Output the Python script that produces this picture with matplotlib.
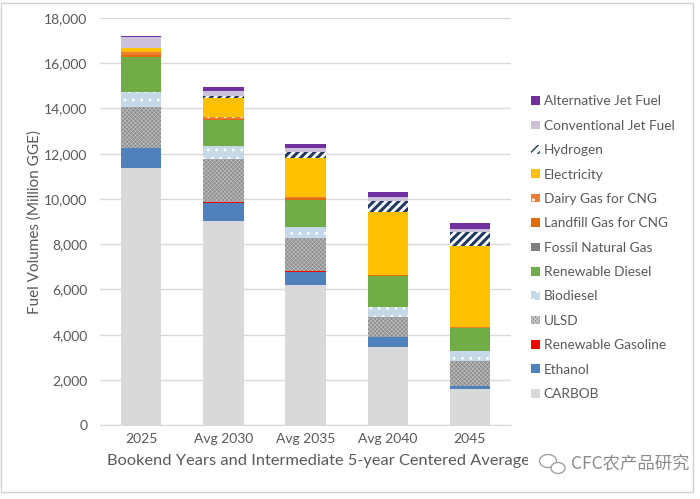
import matplotlib.pyplot as plt
import matplotlib.patches as mpatches
import numpy as np
from matplotlib.ticker import FuncFormatter

plt.rcParams['font.family'] = ['Lato', 'Noto Sans CJK SC', 'DejaVu Sans']

# categories
years = ['2025', 'Avg 2030', 'Avg 2035', 'Avg 2040', '2045']

# fuel volumes (million GGE), bottom of stack first
carbob = [11350, 9020, 6190, 3460, 1620]
ethanol = [880, 810, 590, 415, 115]
ren_gasoline = [30, 20, 20, 10, 0]
ulsd = [1810, 1900, 1480, 885, 1100]
biodiesel = [660, 600, 485, 440, 430]
ren_diesel = [1530, 1140, 1195, 1385, 1035]
fossil_ng = [20, 20, 15, 10, 5]
landfill = [100, 40, 60, 20, 10]
dairy = [115, 80, 55, 30, 10]
electricity = [175, 810, 1725, 2770, 3580]
hydrogen = [0, 100, 265, 470, 635]
conv_jet = [470, 240, 190, 175, 130]
alt_jet = [50, 150, 175, 220, 265]

# name, values, face, hatch, hatch colour, hatch width
series = [
    ['CARBOB', carbob, '#D9D9D9', None, None, 0],
    ['Ethanol', ethanol, '#4F81BD', None, None, 0],
    ['Renewable Gasoline', ren_gasoline, '#FF0000', None, None, 0],
    ['ULSD', ulsd, '#8F8F8F', 'xxxxxxxx', '#C4C4C4', 0.4],
    ['Biodiesel', biodiesel, '#C5D9E8', '..', 'white', 0.8],
    ['Renewable Diesel', ren_diesel, '#70AD47', None, None, 0],
    ['Fossil Natural Gas', fossil_ng, '#7F7F7F', None, None, 0],
    ['Landfill Gas for CNG', landfill, '#E46C0A', None, None, 0],
    ['Dairy Gas for CNG', dairy, '#ED7D31', '..', 'white', 0.8],
    ['Electricity', electricity, '#FFC000', None, None, 0],
    ['Hydrogen', hydrogen, 'white', '////', '#1F3864', 2.2],
    ['Conventional Jet Fuel', conv_jet, '#CCC1DA', None, None, 0],
    ['Alternative Jet Fuel', alt_jet, '#7030A0', None, None, 0],
]

fig = plt.figure(figsize=(7, 4.99), dpi=100)
ax = fig.add_axes([0.143, 0.148, 0.587, 0.816])

x = np.arange(len(years))
bottom = np.zeros(len(years))
handles = []
for name, vals, face, hatch, hcol, hw in series:
    vals = np.array(vals, dtype=float)
    if hatch:
        with plt.rc_context({'hatch.linewidth': hw}):
            b = ax.bar(x, vals, 0.49, bottom=bottom, color=face, hatch=hatch,
                       edgecolor=hcol, linewidth=0, zorder=3, label=name)
            for p in b.patches:
                try:
                    p.set_hatch_linewidth(hw)
                except AttributeError:
                    pass
    else:
        b = ax.bar(x, vals, 0.49, bottom=bottom, color=face, linewidth=0,
                   zorder=3, label=name)
    handles.append(b)
    bottom += vals

ax.set_xlim(-0.5, 4.5)
ax.set_ylim(0, 18000)
ax.set_yticks(np.arange(0, 18001, 2000))
ax.yaxis.set_major_formatter(FuncFormatter(lambda v, p: f'{int(v):,}'))
ax.set_xticks(x)
ax.set_xticklabels(years)
ax.grid(axis='y', color='#D9D9D9', linewidth=1, zorder=0)
for s in ['top', 'right', 'left']:
    ax.spines[s].set_visible(False)
ax.spines['bottom'].set_color('#D9D9D9')
ax.tick_params(axis='both', length=0, labelsize=10, colors='#595959', pad=6)
ax.tick_params(axis='y', pad=9)

ax.set_ylabel('Fuel Volumes (Million GGE)', fontsize=11, color='#595959', labelpad=2)
ax.set_xlabel('Bookend Years and Intermediate 5-year Centered Averages',
              fontsize=11.8, color='#595959')
ax.xaxis.set_label_coords(0.54, -0.072)

leg = ax.legend(handles[::-1], [s[0] for s in series][::-1],
                loc='upper left', bbox_to_anchor=(1.02, 0.84), frameon=False,
                fontsize=9.8, handlelength=0.6, handleheight=0.6,
                handletextpad=0.3, labelspacing=0.91, labelcolor='#595959')

# outer frame
fig.patches.append(mpatches.Rectangle((0.002, 0.014), 0.988, 0.98, transform=fig.transFigure,
                                      fill=False, edgecolor='#D0D0D0', linewidth=1))

# watermark: white patch over the label tail, chat icon and text
W, H = 700, 499
fig.patches.append(mpatches.Rectangle((528 / W, 1 - 476 / H), 162 / W, 24 / H,
                                      transform=fig.transFigure, facecolor='white',
                                      edgecolor='none', zorder=2))
fig.patches.append(mpatches.Ellipse((548 / W, 1 - 461 / H), 17 / W, 13 / H,
                                    transform=fig.transFigure, fill=False,
                                    edgecolor='#A0A0A0', linewidth=1, zorder=3))
fig.patches.append(mpatches.Ellipse((558 / W, 1 - 468 / H), 14 / W, 11 / H,
                                    transform=fig.transFigure, facecolor='white',
                                    edgecolor='#A0A0A0', linewidth=1, zorder=3))
fig.text(0.985, 1 - 463 / H, 'CFC农产品研究', ha='right', va='center', fontsize=12.5,
         color='#8C8C8C', family=['Noto Sans CJK SC', 'DejaVu Sans'], zorder=4)

fig.savefig('out.png', dpi=100)
